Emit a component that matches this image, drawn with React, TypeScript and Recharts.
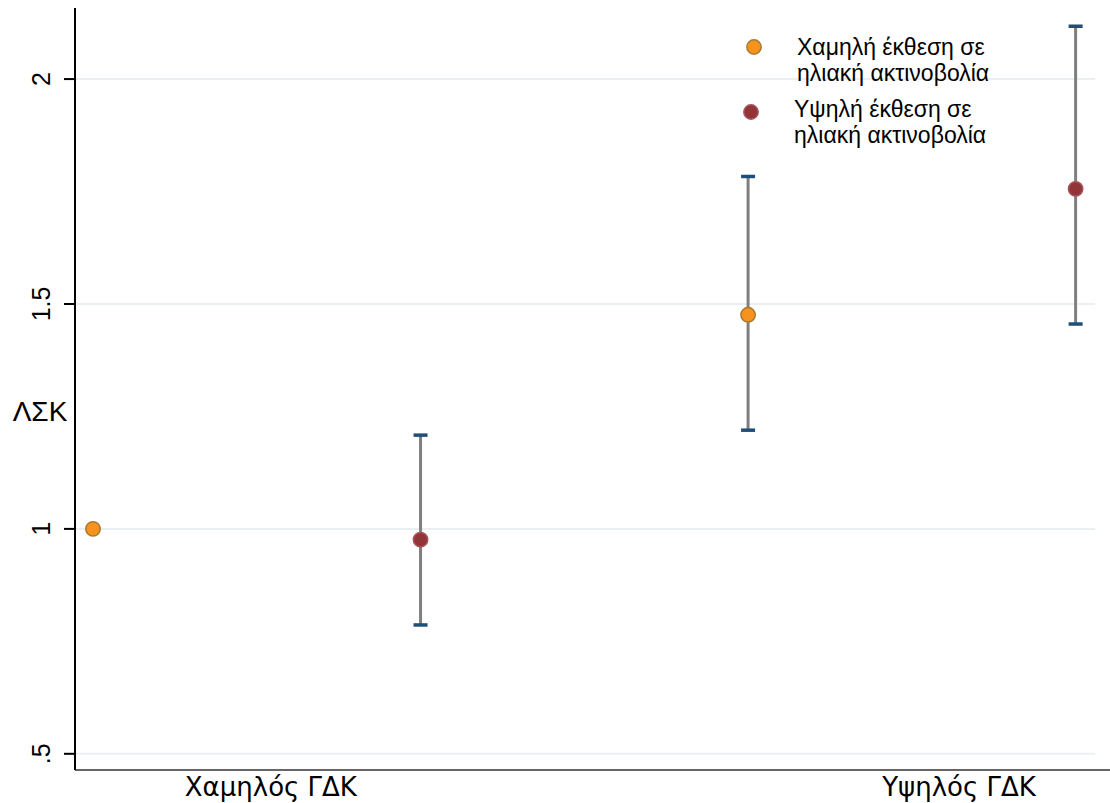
import React from "react";
import {
  ScatterChart,
  Scatter,
  XAxis,
  YAxis,
  ErrorBar,
  ReferenceLine,
} from "recharts";

// ---- data ----
const groupLabels = ["Χαμηλός ΓΔΚ", "Υψηλός ΓΔΚ"];
const groupTickX = [1.543, 3.644];

const seriesNames = ["Χαμηλή έκθεση σε ηλιακή ακτινοβολία", "Υψηλή έκθεση σε ηλιακή ακτινοβολία"];
const legendLines = [
  ["Χαμηλή έκθεση σε", "ηλιακή ακτινοβολία"],
  ["Υψηλή έκθεση σε", "ηλιακή ακτινοβολία"],
];

const lowExpX = [1, 3];
const lowExpValues = [1.0, 1.476];
const lowExpLower: (number | null)[] = [null, 1.22];
const lowExpUpper: (number | null)[] = [null, 1.784];

const highExpX = [2, 4];
const highExpValues = [0.976, 1.756];
const highExpLower = [0.787, 1.456];
const highExpUpper = [1.209, 2.118];

const yTicks = [0.5, 1, 1.5, 2];
const yTickLabels = [".5", "1", "1.5", "2"];
const yDomain = [0.464, 2.158];
const xDomain = [0.945, 4.105];
const gridEndX = 4.06;
const yAxisTitle = "ΛΣΚ";

// ---- derived tables ----
const lowData = lowExpX.map((x, i) => ({ x, y: lowExpValues[i] }));
const highData = highExpX.map((x, i) => ({ x, y: highExpValues[i] }));

const ciRows: { x: number; y: number; err: [number, number] }[] = [];
lowExpX.forEach((x, i) => {
  const lo = lowExpLower[i];
  const hi = lowExpUpper[i];
  if (lo != null && hi != null)
    ciRows.push({ x, y: lowExpValues[i], err: [lowExpValues[i] - lo, hi - lowExpValues[i]] });
});
highExpX.forEach((x, i) => {
  ciRows.push({ x, y: highExpValues[i], err: [highExpValues[i] - highExpLower[i], highExpUpper[i] - highExpValues[i]] });
});

const capRows: { x: number; y: number }[] = [];
lowExpX.forEach((x, i) => {
  const lo = lowExpLower[i];
  const hi = lowExpUpper[i];
  if (lo != null) capRows.push({ x, y: lo });
  if (hi != null) capRows.push({ x, y: hi });
});
highExpX.forEach((x, i) => {
  capRows.push({ x, y: highExpLower[i] });
  capRows.push({ x, y: highExpUpper[i] });
});

const ORANGE = "#f5931e";
const ORANGE_EDGE = "#a87a30";
const RED = "#933439";
const RED_EDGE = "#a4565a";
const WHISKER = "#7f7f7f";
const CAP = "#1f4e79";
const GRID = "#eaf0f2";
const FONT = "'Liberation Sans', Arial, sans-serif";
const XFONT = "'DejaVu Sans', Verdana, sans-serif";

const YTick = (props: any) => {
  const { y, payload } = props;
  const idx = yTicks.indexOf(payload.value);
  const label = idx >= 0 ? yTickLabels[idx] : String(payload.value);
  const cx = 41;
  return (
    <text
      x={cx}
      y={y}
      transform={`rotate(-90 ${cx} ${y})`}
      textAnchor="middle"
      dominantBaseline="central"
      fontSize={25}
      fontFamily={FONT}
      fill="#000"
    >
      {label}
    </text>
  );
};

const XTick = (props: any) => {
  const { x, y, payload } = props;
  const idx = groupTickX.indexOf(payload.value);
  return (
    <text x={x} y={y + 18} textAnchor="middle" fontSize={26} fontFamily={XFONT} fill="#000">
      {groupLabels[idx]}
    </text>
  );
};

const dot = (fill: string, stroke: string) => (props: any) => {
  const { cx, cy } = props;
  return <circle cx={cx} cy={cy} r={7.2} fill={fill} stroke={stroke} strokeWidth={1.5} />;
};

const capShape = (props: any) => {
  const { cx, cy } = props;
  return <rect x={cx - 7} y={cy - 1.5} width={14} height={3.5} fill={CAP} />;
};

const emptyShape = () => <g />;

const LegendBox = () => {
  const colors = [
    [ORANGE, ORANGE_EDGE],
    [RED, RED_EDGE],
  ];
  return (
    <svg
      width={300}
      height={140}
      style={{ position: "absolute", left: 740, top: 25, display: "block" }}
    >
      {legendLines.map((lines, i) => (
        <g key={seriesNames[i]}>
          <circle cx={i === 0 ? 14 : 11} cy={i === 0 ? 22 : 87} r={7.2} fill={colors[i][0]} stroke={colors[i][1]} strokeWidth={1.5} />
          {lines.map((ln, j) => (
            <text
              key={j}
              x={i === 0 ? 57 : 54}
              y={(i === 0 ? 30 : 92) + j * 26}
              fontSize={23}
              fontFamily={FONT}
              fill="#000"
            >
              {ln}
            </text>
          ))}
        </g>
      ))}
    </svg>
  );
};

export default function App() {
  return (
    <div style={{ position: "absolute", left: 0, top: 0, width: 1110, height: 803, background: "#fff" }}>
      <ScatterChart width={1110} height={803} margin={{ top: 8, right: 0, bottom: 0, left: 0 }}>
        {yTicks.map((t) => (
          <ReferenceLine
            key={t}
            segment={[
              { x: xDomain[0], y: t },
              { x: gridEndX, y: t },
            ]}
            stroke={GRID}
            strokeWidth={2}
            ifOverflow="visible"
          />
        ))}
        <XAxis
          type="number"
          dataKey="x"
          domain={xDomain}
          ticks={groupTickX}
          tick={<XTick />}
          tickLine={false}
          axisLine={{ stroke: "#333", strokeWidth: 1.5 }}
          height={33}
          allowDataOverflow
        />
        <YAxis
          type="number"
          dataKey="y"
          domain={yDomain}
          ticks={yTicks}
          tick={<YTick />}
          tickSize={11}
          tickLine={{ stroke: "#000", strokeWidth: 2 }}
          axisLine={{ stroke: "#000", strokeWidth: 2 }}
          width={75}
          allowDataOverflow
          label={{
            value: yAxisTitle,
            position: "insideLeft",
            offset: 0,
            content: (p: any) => {
              const vb = p.viewBox || {};
              return (
                <text
                  x={40}
                  y={vb.y + vb.height / 2 + 32}
                  textAnchor="middle"
                  fontSize={28}
                  fontFamily={FONT}
                  fill="#000"
                >
                  {yAxisTitle}
                </text>
              );
            },
          }}
        />
        <Scatter data={ciRows} shape={emptyShape} isAnimationActive={false} legendType="none">
          <ErrorBar dataKey="err" direction="y" width={0} stroke={WHISKER} strokeWidth={3} isAnimationActive={false} />
        </Scatter>
        <Scatter data={capRows} shape={capShape} isAnimationActive={false} legendType="none" />
        <Scatter name={seriesNames[0]} data={lowData} shape={dot(ORANGE, ORANGE_EDGE)} isAnimationActive={false} />
        <Scatter name={seriesNames[1]} data={highData} shape={dot(RED, RED_EDGE)} isAnimationActive={false} />
      </ScatterChart>
      <LegendBox />
    </div>
  );
}
